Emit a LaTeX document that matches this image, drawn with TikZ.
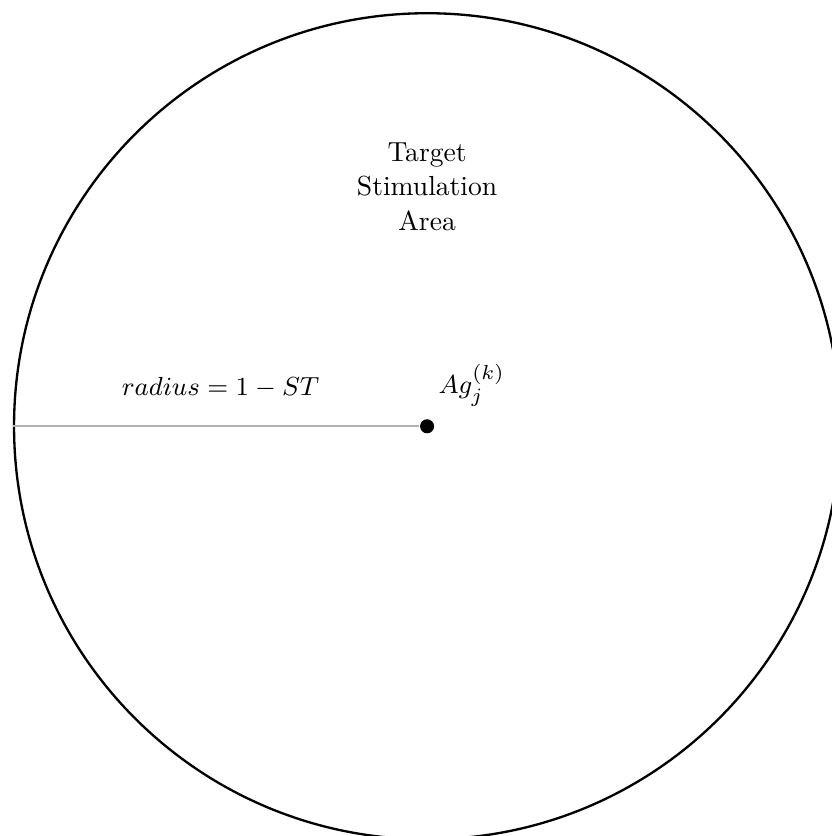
\documentclass[tikz,border=0pt]{standalone}
\usetikzlibrary{positioning}

\begin{document}
\begin{tikzpicture}[
  font=\fontsize{9.5}{12}\selectfont,
  node distance=3mm and 3mm,
  area/.style={draw, circle, thick, minimum size=10cm, inner sep=0pt},
  agent/.style={circle, fill=black, minimum size=1.7mm, inner sep=0pt},
  reach/.style={gray!60, line width=.6pt},
  label/.style={align=center, inner sep=2pt}
]
  \useasboundingbox (-5.17,-4.96) rectangle (4.89,5.16);
  \node[area] (zone) at (0,0) {};
  \node[agent] (ag) at (0,0) {};
  \node[label] (title) at (0,2.9) {Target\\Stimulation\\Area};
  \node[label] (agname) at (0.54,0.5) {$Ag_j^{(k)}$};
  \coordinate (edge) at (zone.west);
  \node[label] (rad) at (-2.5,0.47) {$radius = 1 - ST$};

  \draw[reach] (edge) -- (ag);
\end{tikzpicture}
\end{document}
